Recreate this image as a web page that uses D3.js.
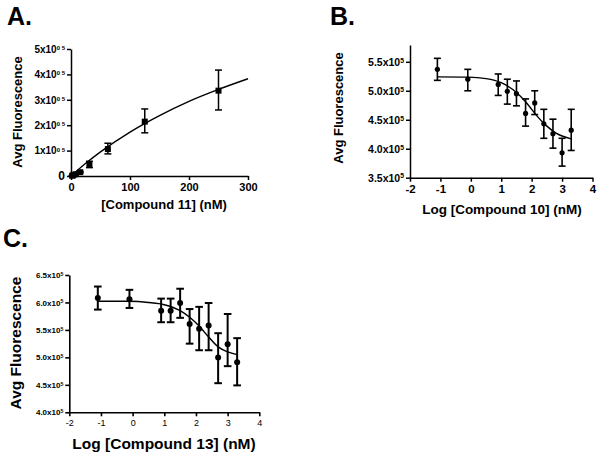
<!DOCTYPE html>
<html><head><meta charset="utf-8">
<script src="https://cdn.jsdelivr.net/npm/d3@7"></script>
<style>
body{margin:0;background:#fff;}
text{font-family:"Liberation Sans",Arial,sans-serif;font-weight:bold;fill:#000;}
</style></head>
<body><svg id="c" width="600" height="454"></svg>
<script>
// Panel A data: linear concentration (nM), fluorescence in units of 1e5
const aConc = [1.95, 3.9, 7.8, 15.6, 31.25, 62.5, 125, 250];
const aMean = [0.01, 0.03, 0.07, 0.15, 0.46, 1.06, 2.14, 3.36];
const aLow  = [0.00, 0.01, 0.05, 0.12, 0.33, 0.87, 1.70, 2.60];
const aHigh = [0.02, 0.05, 0.09, 0.18, 0.58, 1.29, 2.64, 4.17];
const aFitX = [0, 25, 50, 100, 150, 200, 250, 300];
const aFitY = [0, 0.50, 0.95, 1.73, 2.38, 2.94, 3.41, 3.83];
const aYTicks = [0, 1, 2, 3, 4, 5];
const aXTicks = [0, 100, 200, 300];

// Panel B data: log concentration, fluorescence in units of 1e5
const logConc = [-1.1, -0.1, 0.9, 1.2, 1.5, 1.8, 2.1, 2.4, 2.7, 3.0, 3.3];
const bMean = [5.37, 5.20, 5.11, 4.99, 4.95, 4.61, 4.79, 4.43, 4.26, 3.93, 4.32];
const bLow  = [5.18, 5.00, 4.92, 4.77, 4.74, 4.39, 4.59, 4.18, 4.01, 3.70, 3.97];
const bHigh = [5.56, 5.37, 5.29, 5.20, 5.17, 4.86, 5.00, 4.68, 4.51, 4.18, 4.68];
const bFitX = [-1.1, -0.1, 0.5, 1.0, 1.5, 1.8, 2.0, 2.2, 2.5, 2.8, 3.0, 3.3];
const bFitY = [5.24, 5.235, 5.21, 5.14, 4.97, 4.81, 4.68, 4.55, 4.39, 4.27, 4.22, 4.17];
const bYTicks = [3.5, 4.0, 4.5, 5.0, 5.5];

// Panel C data
const cMean = [6.08, 6.06, 5.85, 5.85, 5.99, 5.61, 5.52, 5.58, 5.00, 5.24, 4.91];
const cLow  = [5.87, 5.90, 5.64, 5.64, 5.72, 5.25, 5.13, 5.13, 4.53, 4.84, 4.49];
const cHigh = [6.29, 6.23, 6.07, 6.07, 6.25, 5.88, 5.92, 5.99, 5.44, 5.79, 5.35];
const cFitX = [-1.1, -0.1, 0.5, 1.0, 1.5, 1.8, 2.1, 2.4, 2.7, 3.0, 3.3];
const cFitY = [6.02, 6.02, 6.00, 5.96, 5.85, 5.73, 5.57, 5.37, 5.19, 5.10, 5.05];
const cYTicks = [4.0, 4.5, 5.0, 5.5, 6.0, 6.5];
const logTicks = [-2, -1, 0, 1, 2, 3, 4];

const svg = d3.select("#c");

function panel(o){
  const g = svg.append("g");
  const x = d3.scaleLinear().domain(o.xDom).range(o.xRange);
  const y = d3.scaleLinear().domain(o.yDom).range(o.yRange);
  // axes
  const yAx = g.append("g").attr("transform",`translate(${o.xRange[0]},0)`)
    .call(d3.axisLeft(y).tickValues(o.yTicks).tickSize(o.tick).tickPadding(2).tickSizeOuter(0));
  const xAx = g.append("g").attr("transform",`translate(0,${o.yRange[0]})`)
    .call(d3.axisBottom(x).tickValues(o.xTicks).tickFormat(d=>String(d))
      .tickSize(o.tick).tickPadding(o.xPad).tickSizeOuter(0));
  [yAx,xAx].forEach(a=>{a.selectAll("path,line").attr("stroke","#000").attr("stroke-width",o.axW);});
  yAx.selectAll("text").style("font-size",o.yFont+"px").each(function(d){
    const t=d3.select(this); t.text("");
    if(o.yFmt==="A"){
      if(d===0){t.text("0").style("font-size",(o.yFont+2)+"px");return;}
      t.append("tspan").text(d+"x10");
      t.append("tspan").attr("dy","-0.45em").style("font-size",(o.yFont*0.6)+"px").text("0 5");
    } else {
      t.append("tspan").text(d.toFixed(1)+"x10");
      t.append("tspan").attr("dy","-0.45em").style("font-size",(o.yFont*0.65)+"px").text("5");
    }
  });
  xAx.selectAll("text").style("font-size",o.xFont+"px").style("font-weight",o.xWeight);
  // fit line
  g.append("path").datum(o.fitX.map((v,i)=>[v,o.fitY[i]]))
    .attr("d",d3.line().x(d=>x(d[0])).y(d=>y(d[1])).curve(d3.curveMonotoneX))
    .attr("fill","none").attr("stroke","#000").attr("stroke-width",o.fitW);
  // error bars
  const eb = g.append("g").attr("stroke","#000").attr("stroke-width",o.ebW);
  o.xs.forEach((xv,i)=>{
    const px=x(xv);
    eb.append("line").attr("x1",px).attr("x2",px).attr("y1",y(o.lo[i])).attr("y2",y(o.hi[i]));
    eb.append("line").attr("x1",px-o.cap).attr("x2",px+o.cap).attr("y1",y(o.lo[i])).attr("y2",y(o.lo[i]));
    eb.append("line").attr("x1",px-o.cap).attr("x2",px+o.cap).attr("y1",y(o.hi[i])).attr("y2",y(o.hi[i]));
  });
  // markers
  if(o.marker==="square"){
    g.selectAll("rect.m").data(o.xs).enter().append("rect")
      .attr("x",(d)=>x(d)-o.mSize).attr("y",(d,i)=>y(o.mean[i])-o.mSize)
      .attr("width",o.mSize*2).attr("height",o.mSize*2).attr("fill","#000");
  } else {
    g.selectAll("circle.m").data(o.xs).enter().append("circle")
      .attr("cx",d=>x(d)).attr("cy",(d,i)=>y(o.mean[i])).attr("r",o.mSize).attr("fill","#000");
  }
  // titles
  g.append("text").attr("transform",`translate(${o.yt[0]},${o.yt[1]}) rotate(-90)`)
    .attr("text-anchor","middle").style("font-size",o.ytFont+"px").text("Avg Fluorescence");
  g.append("text").attr("x",o.xt[0]).attr("y",o.xt[1]).attr("text-anchor","middle")
    .style("font-size",o.xtFont+"px").text(o.xTitle);
  g.append("text").attr("x",o.lab[0]).attr("y",o.lab[1]).style("font-size","25px").text(o.label);
}

panel({label:"A.",lab:[7,25],xDom:[0,300],xRange:[71,248],yDom:[0,5],yRange:[176,49],
  yTicks:aYTicks,xTicks:aXTicks,tick:4,xPad:3,axW:1.5,yFont:10,yFmt:"A",xFont:11,xWeight:"bold",
  fitX:aFitX,fitY:aFitY,fitW:1.4,xs:aConc,mean:aMean,lo:aLow,hi:aHigh,cap:3.5,ebW:1.5,
  marker:"square",mSize:3,yt:[22,112],ytFont:13,xt:[164,209],xtFont:13,xTitle:"[Compound 11] (nM)"});

panel({label:"B.",lab:[330,25],xDom:[-2,4],xRange:[410,592.5],yDom:[3.5,5.79],yRange:[177.7,45],
  yTicks:bYTicks,xTicks:logTicks,tick:4,xPad:3,axW:1.5,yFont:10.5,yFmt:"B",xFont:11.5,xWeight:"bold",
  fitX:bFitX,fitY:bFitY,fitW:1.4,xs:logConc,mean:bMean,lo:bLow,hi:bHigh,cap:3.5,ebW:1.6,
  marker:"circle",mSize:2.6,yt:[343,108],ytFont:13,xt:[502,214],xtFont:13.5,xTitle:"Log [Compound 10] (nM)"});

panel({label:"C.",lab:[3,247],xDom:[-2,4],xRange:[69.3,259.3],yDom:[4.0,6.5],yRange:[412.3,275],
  yTicks:cYTicks,xTicks:logTicks,tick:4,xPad:3,axW:1.6,yFont:8,yFmt:"B",xFont:9,xWeight:"normal",
  fitX:cFitX,fitY:cFitY,fitW:1.5,xs:logConc,mean:cMean,lo:cLow,hi:cHigh,cap:3.8,ebW:2,
  marker:"circle",mSize:3,yt:[21,343],ytFont:15.5,xt:[164,449],xtFont:15.5,xTitle:"Log [Compound 13] (nM)"});
</script></body></html>
